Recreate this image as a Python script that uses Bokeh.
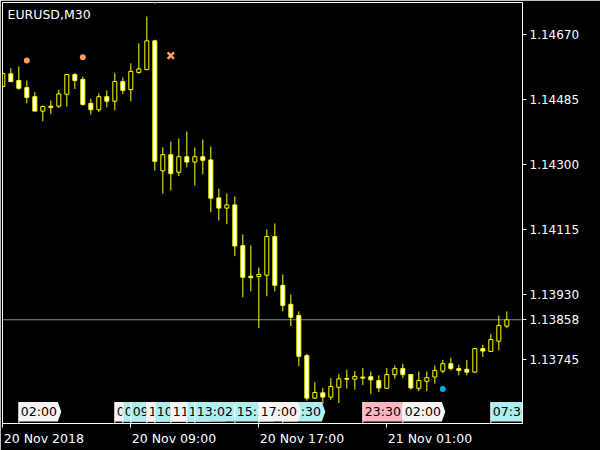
from bokeh.plotting import figure
from bokeh.models import Range1d, FixedTicker, PrintfTickFormatter, Label, ColumnDataSource
from bokeh.core.properties import value
from bokeh.embed import file_html
from bokeh.resources import INLINE

# ---------------- data ----------------
symbol_title = "EURUSD,M30"
bar_index = list(range(-1, 63))  # 30-minute bars, bar 15 = 20 Nov 09:00

opens = [1.14522, 1.14558, 1.14539, 1.14519, 1.14493, 1.14452, 1.14466, 1.14466,
         1.14500, 1.14556, 1.14542, 1.14474, 1.14456, 1.14493, 1.14480, 1.14536,
         1.14513, 1.14562, 1.14570, 1.14652, 1.14282, 1.14328, 1.14278, 1.14322,
         1.14307, 1.14322, 1.14313, 1.14205, 1.14176, 1.14185, 1.14069, 1.13982,
         1.13981, 1.13985, 1.14095, 1.13956, 1.13902, 1.13870, 1.13756, 1.13635,
         1.13650, 1.13638, 1.13666, 1.13691, 1.13689, 1.13695, 1.13696, 1.13685,
         1.13663, 1.13702, 1.13719, 1.13702, 1.13663, 1.13683, 1.13695, 1.13712,
         1.13733, 1.13719, 1.13717, 1.13709, 1.13776, 1.13768, 1.13797, 1.13840]
highs = [1.14562, 1.14574, 1.14579, 1.14539, 1.14506, 1.14468, 1.14482, 1.14513,
         1.14558, 1.14560, 1.14550, 1.14487, 1.14503, 1.14511, 1.14560, 1.14548,
         1.14588, 1.14645, 1.14721, 1.14655, 1.14349, 1.14365, 1.14374, 1.14394,
         1.14348, 1.14371, 1.14351, 1.14231, 1.14218, 1.14209, 1.14101, 1.14070,
         1.14007, 1.14115, 1.14132, 1.13987, 1.13930, 1.13882, 1.13761, 1.13680,
         1.13664, 1.13692, 1.13704, 1.13716, 1.13712, 1.13721, 1.13711, 1.13700,
         1.13721, 1.13728, 1.13733, 1.13703, 1.13711, 1.13711, 1.13728, 1.13744,
         1.13750, 1.13730, 1.13744, 1.13777, 1.13787, 1.13818, 1.13870, 1.13882]
lows = [1.14519, 1.14534, 1.14513, 1.14474, 1.14451, 1.14423, 1.14444, 1.14461,
        1.14465, 1.14515, 1.14468, 1.14442, 1.14449, 1.14463, 1.14454, 1.14501,
        1.14480, 1.14558, 1.14569, 1.14283, 1.14217, 1.14226, 1.14267, 1.14292,
        1.14240, 1.14272, 1.14164, 1.14141, 1.14130, 1.14039, 1.13922, 1.13939,
        1.13834, 1.13925, 1.13939, 1.13882, 1.13840, 1.13726, 1.13628, 1.13633,
        1.13619, 1.13630, 1.13621, 1.13662, 1.13659, 1.13672, 1.13647, 1.13652,
        1.13662, 1.13690, 1.13692, 1.13659, 1.13655, 1.13655, 1.13676, 1.13706,
        1.13714, 1.13700, 1.13700, 1.13708, 1.13752, 1.13767, 1.13771, 1.13834]
closes = [1.14559, 1.14536, 1.14517, 1.14491, 1.14452, 1.14465, 1.14462, 1.14501,
          1.14556, 1.14539, 1.14471, 1.14456, 1.14493, 1.14480, 1.14536, 1.14511,
          1.14565, 1.14572, 1.14652, 1.14309, 1.14328, 1.14274, 1.14322, 1.14307,
          1.14322, 1.14312, 1.14204, 1.14176, 1.14185, 1.14068, 1.13979, 1.13978,
          1.13987, 1.14095, 1.13956, 1.13899, 1.13865, 1.13754, 1.13635, 1.13651,
          1.13638, 1.13668, 1.13690, 1.13689, 1.13697, 1.13692, 1.13687, 1.13664,
          1.13702, 1.13719, 1.13702, 1.13664, 1.13685, 1.13693, 1.13714, 1.13733,
          1.13719, 1.13714, 1.13709, 1.13776, 1.13769, 1.13802, 1.13842, 1.13858]

x_tick_bars = [-1, 15, 31, 47]
x_tick_labels = ["20 Nov 2018", "20 Nov 09:00", "20 Nov 17:00", "21 Nov 01:00"]
y_ticks = [1.14670, 1.14485, 1.14300, 1.14115, 1.13930, 1.13745]

orange_dot_bars = [2, 9, 18]
orange_dot_prices = [1.14596, 1.14605, 1.14767]
orange_cross_bars = [20]
orange_cross_prices = [1.14610]
blue_dot_bars = [54]
blue_dot_prices = [1.13661]

event_bars = [1, 13, 14, 15, 17, 18, 20, 22, 23, 28, 34, 31, 44, 49, 60]
event_texts = ["02:00", "08:00", "08:30", "09:00", "10:00", "10:30", "11:30", "12:30",
               "13:02", "15:30", "18:30", "17:00", "23:30", "02:00", "07:30"]
event_kinds = ["w", "w", "c", "c", "w", "c", "w", "c", "c", "c", "c", "w", "p", "w", "c"]

# ---------------- layout / style ----------------
FONT = "DejaVu Sans"
YELLOW = "#FFFF00"
SLATE = "#778899"
X0, X1 = -1.04, 63.96
Y0, Y1 = 1.135628, 1.147611
LEFT, TOP = 2, 2
FW, FH = 520, 421
W, H = 600, 450
kind_colors = {"w": "#F4F4F4", "c": "#AFEEEE", "p": "#FFB6C1"}
px_per_bar = FW / (X1 - X0)
px_per_price = FH / (Y1 - Y0)

# approximate DejaVu Sans advance widths (em) to left-align the time labels
_em = {" ": 0.318, ":": 0.337, "N": 0.748, "o": 0.612, "v": 0.592}
XLAB_PX = 12.5


def label_px(s):
    return sum(_em.get(ch, 0.636) for ch in s) * XLAB_PX


x_label_centers = [b + (1 + label_px(t) / 2) / px_per_bar
                   for b, t in zip(x_tick_bars, x_tick_labels)]

p = figure(frame_width=FW, frame_height=FH,
           x_range=Range1d(X0, X1), y_range=Range1d(Y0, Y1),
           output_backend="svg", toolbar_location=None, y_axis_location="right",
           min_border_left=LEFT, min_border_top=TOP,
           min_border_right=W - LEFT - FW, min_border_bottom=H - TOP - FH,
           background_fill_color="black", border_fill_color="black",
           outline_line_color="white")
p.grid.visible = False
p.extra_y_ranges = {"ui": Range1d(0, FH)}

for ax in (p.xaxis[0], p.yaxis[0]):
    ax.axis_line_color = "white"
    ax.major_tick_line_color = "white"
    ax.minor_tick_line_color = "white"
    ax.major_label_text_color = "white"
    ax.major_label_text_font = FONT

# price scale, including the current bid price
p.yaxis.ticker = FixedTicker(ticks=y_ticks + [closes[-1]])
p.yaxis.formatter = PrintfTickFormatter(format="%.5f")
p.yaxis.major_tick_out = 4
p.yaxis.major_tick_in = 0
p.yaxis.minor_tick_line_color = None
p.yaxis.major_label_text_font_size = "12px"
p.yaxis.major_label_standoff = 3

# tick marks at the bar times (minor ticks), labels placed to start at them
p.xaxis.ticker = FixedTicker(ticks=x_label_centers, minor_ticks=x_tick_bars)
p.xaxis.major_label_overrides = {c: t for c, t in zip(x_label_centers, x_tick_labels)}
p.xaxis.major_tick_out = 0
p.xaxis.major_tick_in = 0
p.xaxis.major_tick_line_color = None
p.xaxis.minor_tick_out = 4
p.xaxis.minor_tick_in = 0
p.xaxis.major_label_text_font_size = "%gpx" % XLAB_PX
p.xaxis.major_label_standoff = 3

# bid line, as a 1-px bar across the chart area
p.hbar(y=[closes[-1]], left=[X0], right=[X1], height=1.0 / px_per_price,
       fill_color=SLATE, line_color=None)

# candles
src = ColumnDataSource(dict(
    x=bar_index, o=opens, h=highs, l=lows, c=closes,
    top=[max(o, c) for o, c in zip(opens, closes)],
    bottom=[min(o, c) for o, c in zip(opens, closes)],
    fill=["black" if c > o else "white" for o, c in zip(opens, closes)],
))
p.segment(x0="x", y0="l", x1="x", y1="h", line_color=YELLOW, line_width=1, source=src)
p.vbar(x="x", width=0.5, top="top", bottom="bottom", fill_color="fill",
       line_color=YELLOW, line_width=1, source=src)

# markers
p.scatter(orange_dot_bars, orange_dot_prices, marker="circle", size=6,
          fill_color="#F4A062", line_color=None)
p.scatter(orange_cross_bars, orange_cross_prices, marker="x", size=9,
          line_color="#F4A062", line_width=2.5)
p.scatter(blue_dot_bars, blue_dot_prices, marker="circle", size=6,
          fill_color="#00AAEE", line_color=None)

# event labels on the time scale
box_w = 39 / px_per_bar
tip = 3.5 / px_per_bar
b_top, b_mid, b_bot = 21.5, 11.75, 2.0
for b, t, k in zip(event_bars, event_texts, event_kinds):
    L, R = b, b + box_w
    p.patch([L, R, R + tip, R, L], [b_top, b_top, b_mid, b_bot, b_bot],
            fill_color=kind_colors[k], line_color=None, y_range_name="ui")
    p.segment(x0=[L], y0=[0], x1=[L], y1=[b_top], line_color="white",
              line_width=1, y_range_name="ui")
    p.text(x=[L], y=[b_mid], text=[t], x_offset=2, text_font=value(FONT),
           text_font_size="12.5px", text_baseline="middle", text_align="left",
           text_color="black", y_range_name="ui")

# title
p.add_layout(Label(x=X0, y=Y1, x_offset=5, y_offset=-4, text=symbol_title,
                   text_color="white", text_font=FONT, text_font_size="12.5px",
                   text_baseline="top", text_align="left"))

open("out.html", "w").write(file_html(p, INLINE))
